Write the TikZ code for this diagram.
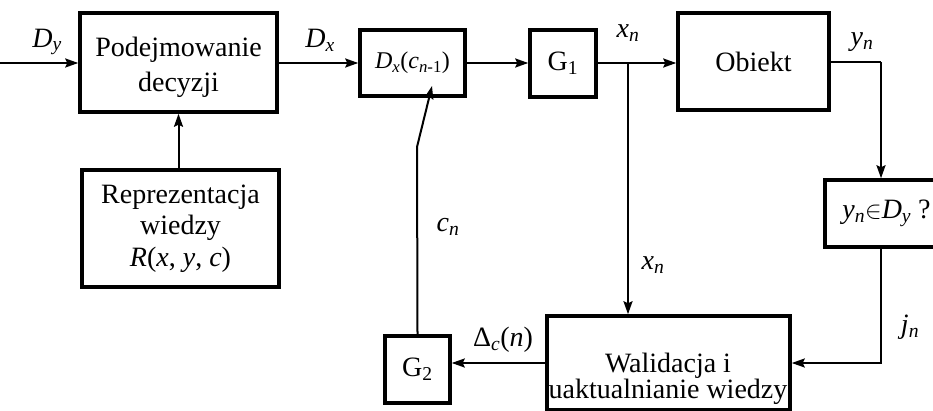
\documentclass[tikz,border=0pt]{standalone}
\usepackage{fontspec}
\setmainfont{Liberation Serif}
\usetikzlibrary{arrows.meta}
\newcommand\msub[2]{\textit{#1}\textsubscript{\textit{#2}}}
\begin{document}
\begin{tikzpicture}[x=1pt,y=-1pt,
  txt/.style={font=\fontsize{28}{31}\selectfont},
  blk/.style={draw, line width=3.5pt, rectangle, inner sep=0pt, align=center, txt},
  conn/.style={line width=2pt, -{Stealth[length=13pt,width=9pt,inset=2pt]}},
  line/.style={line width=2pt},
  lbl/.style={txt, inner sep=0pt},
  btxt/.style={inner sep=0pt, align=center}]
\clip (0,0) rectangle (933,411);
\fill[white] (0,0) rectangle (933,411);
% blocks
\node[blk, minimum width=197pt, minimum height=99pt] (pd) at (178.5,62.5) {};
\node[btxt, font=\fontsize{28}{35}\selectfont] (pdt) at (178.5,67) {Podejmowanie\\decyzji};
\node[blk, minimum width=197pt, minimum height=117pt, font=\fontsize{28}{31.5}\selectfont] (rep) at (180.5,228.5) {Reprezentacja\\wiedzy\\\textit{R}(\textit{x}, \textit{y}, \textit{c})};
\node[blk, minimum width=105pt, minimum height=66pt, font=\fontsize{24}{26}\selectfont] (dx) at (412.5,63) {\msub{D}{x}(\textit{c}\textsubscript{\textit{n}-1})};
\node[blk, minimum width=66pt, minimum height=67pt] (g1) at (563,63.5) {G\textsubscript{1}};
\node[blk, minimum width=151pt, minimum height=97pt] (ob) at (753.5,61.5) {Obiekt};
\node[blk, minimum width=123pt, minimum height=67pt] (yd) at (886.5,213.5) {\msub{y}{n}$\in$\msub{D}{y} ?};
\node[blk, minimum width=243pt, minimum height=94pt] (wal) at (668.5,363) {};
\node[btxt, font=\fontsize{28}{26}\selectfont] (walt) at (668,379) {Walidacja i\\uaktualnianie wiedzy};
\node[blk, minimum width=65pt, minimum height=67pt] (g2) at (417.5,369.5) {G\textsubscript{2}};
% coordinates
\coordinate (in) at (0,63);
\coordinate (s1) at (628,63);
\coordinate (yc) at (881,62);
\coordinate (ck) at (417,147);
\coordinate (ctip) at (432,86);
% connectors
\draw[conn] (in) -- (pd.west|-in);
\draw[conn] (pd.east|-dx.west) -- (dx.west);
\draw[conn] (dx.east) -- (g1.west|-dx.east);
\draw[conn] (g1.east|-s1) -- (ob.west|-s1);
\draw[conn] (s1) -- (s1|-wal.north);
\draw[line] (ob.east|-yc) -- (yc);
\draw[conn] (yc) -- (yc|-yd.north);
\draw[conn] (yc|-yd.south) |- (wal.east);
\draw[conn] (wal.west) -- (g2.east|-wal.west);
\draw[conn] (g2.north) -- (ck) -- (ctip);
\draw[conn] (pd.south|-rep.north) -- (pd.south);
% labels
\node[lbl] (lDy) at (47,42) {\msub{D}{y}};
\node[lbl] (lDx) at (320,40) {\msub{D}{x}};
\node[lbl] (lxn) at (628,33) {\msub{x}{n}};
\node[lbl] (lyn) at (862,42) {\msub{y}{n}};
\node[lbl] (lcn) at (448,227) {\msub{c}{n}};
\node[lbl] (lxn2) at (653,265) {\msub{x}{n}};
\node[lbl] (ldc) at (503,340) {Δ\textsubscript{\textit{c}}(\textit{n})};
\node[lbl] (ljn) at (910,327) {\msub{j}{n}};
\end{tikzpicture}
\end{document}
